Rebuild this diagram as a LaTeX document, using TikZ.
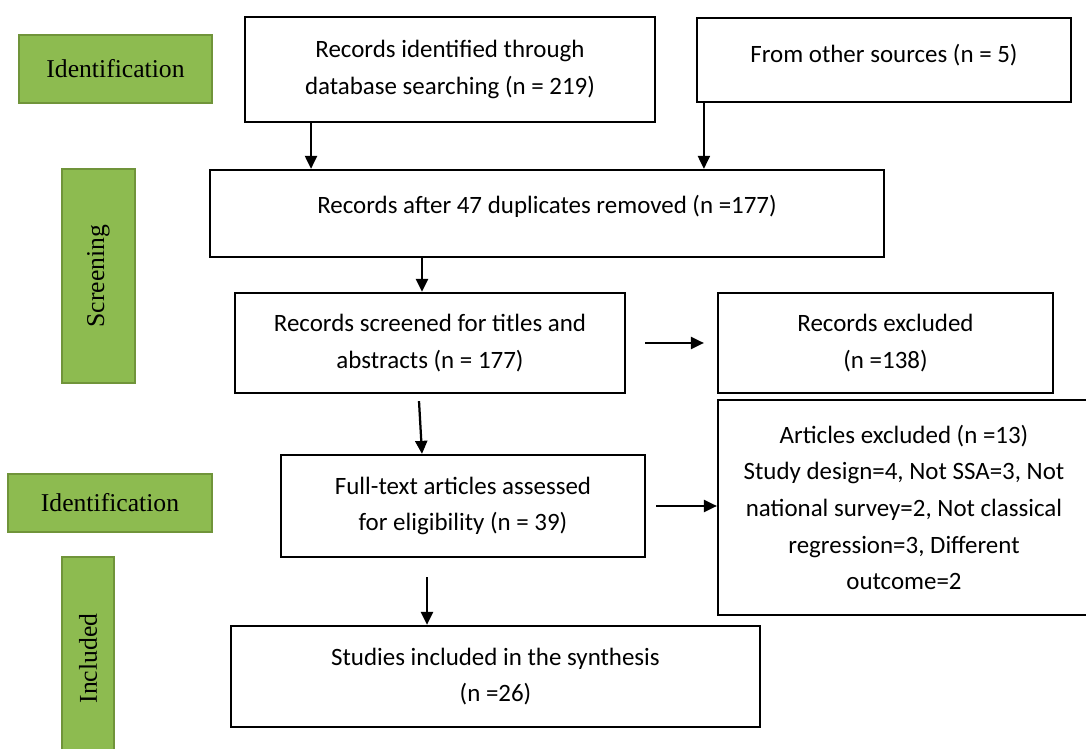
\documentclass[tikz,border=0pt]{standalone}
\usepackage{fontspec}
\setmainfont{Carlito}
\newfontfamily\timesfont{Liberation Serif}
\usetikzlibrary{arrows.meta,positioning}
\definecolor{stagegreen}{RGB}{141,187,80}
\definecolor{stageedge}{RGB}{112,148,58}

\begin{document}
\begin{tikzpicture}
[x=0.02cm,y=-0.02cm,
      font=\fontsize{14.2}{20.9}\selectfont,
      box/.style={draw,line width=0.045cm,align=center,inner sep=0pt},
      stage/.style={draw=stageedge,fill=stagegreen,line width=0.045cm,inner sep=0pt,
      font=\timesfont\fontsize{14.6}{17}\selectfont},
      stagev/.style={stage,rotate=90},
      arr/.style={line width=0.045cm,-{Triangle[length=0.26cm,width=0.24cm]}}]
 \useasboundingbox (0,0) rectangle (1086,749);
 % stage labels
 \node[stage,minimum width=3.86cm,minimum height=1.36cm] (ident1) at (115.5,69) {Identification};
 \node[stagev,minimum width=4.28cm,minimum height=1.46cm] (screen) at (98.5,276) {Screening};
 \node[stage,minimum width=4.08cm,minimum height=1.16cm] (ident2) at (110,503) {Identification};
 \node[stagev,minimum width=4.06cm,minimum height=1.04cm] (incl) at (88,658.5) {Included};
 % boxes
 \node[box,minimum width=8.2cm,minimum height=2.1cm] (dbrec) at (450,69.5)
  {Records identified through\\database searching (n = 219)};
 \node[box,minimum width=7.48cm,minimum height=1.68cm,text depth=0.28cm] (other) at (884,60)
  {From other sources (n = 5)};
 \node[box,minimum width=13.48cm,minimum height=1.74cm,text depth=0.36cm] (dedup) at (547,213.5)
  {Records after 47 duplicates removed (n =177)};
 \node[box,minimum width=7.8cm,minimum height=2cm] (scr) at (430,343)
  {Records screened for titles and\\abstracts (n = 177)};
 \node[box,minimum width=6.7cm,minimum height=2cm] (excl) at (885.5,343)
  {Records excluded\\(n =138)};
 \node[box,minimum width=7.28cm,minimum height=2.04cm] (full) at (463,506)
  {Full-text articles assessed\\for eligibility (n = 39)};
 \node[box,minimum width=7.44cm,minimum height=4.3cm] (artexcl) at (904,507.5)
  {Articles excluded (n =13)\\Study design=4, Not SSA=3, Not\\national survey=2, Not classical\\regression=3, Different\\outcome=2};
 \node[box,minimum width=10.58cm,minimum height=2.02cm] (studies) at (495.5,676.5)
  {Studies included in the synthesis\\(n =26)};
 % arrows
 \draw[arr] ([xshift=-2.78cm]dbrec.south) -- ([xshift=-2.78cm]dbrec.south |- dedup.north);
 \draw[arr] ([xshift=0.16cm]other.south west) -- ([xshift=0.16cm]other.south west |- dedup.north);
 \draw[arr] ([xshift=-0.16cm]scr.north |- dedup.south) -- ([xshift=-0.16cm]scr.north);
 \draw[arr] ([xshift=0.38cm]scr.east) -- ([xshift=-0.26cm]excl.west);
 \draw[arr] ([shift={(-0.22cm,-0.14cm)}]scr.south) -- ([xshift=-0.82cm]full.north);
 \draw[arr] ([xshift=0.2cm]full.east) -- (full.east -| artexcl.west);
 \draw[arr] ([shift={(-0.72cm,-0.38cm)}]full.south) -- ([xshift=-0.72cm]full.south |- studies.north);
\end{tikzpicture}
\end{document}
